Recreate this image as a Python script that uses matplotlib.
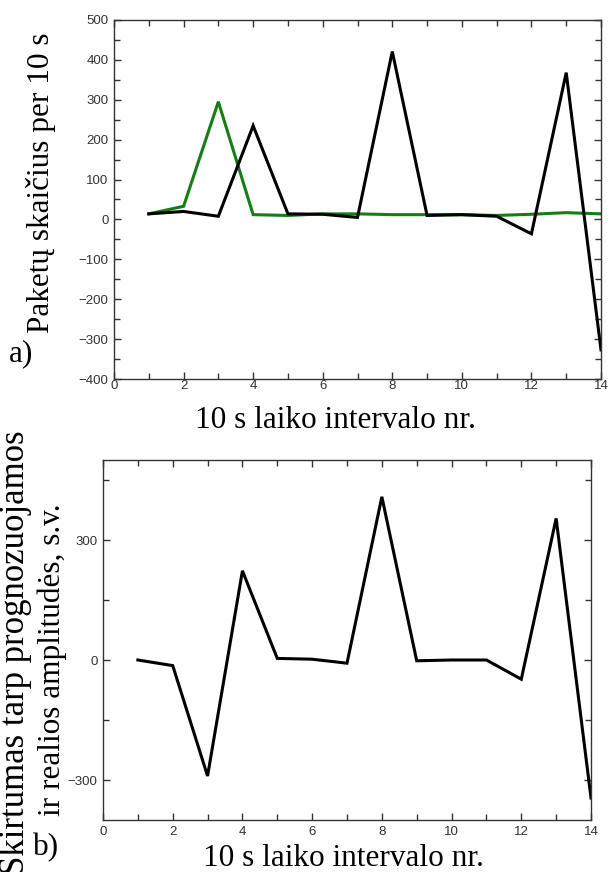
import matplotlib
matplotlib.use("Agg")
import matplotlib.pyplot as plt
from matplotlib.ticker import MultipleLocator

x = list(range(1, 15))
predicted = [14, 33, 295, 12, 10, 14, 14, 12, 12, 12, 10, 13, 17, 14]      # green
real = [14, 20, 8, 235, 14, 13, 5, 421, 10, 12, 8, -36, 368, -327]         # black
difference = [0, -14, -290, 223, 4, 2, -8, 408, -2, 0, 0, -48, 354, -345]

xlabel = "10 s laiko intervalo nr."
ylabel_a = "Paketų skaičius per 10 s"
ylabel_b1 = "Skirtumas tarp prognozuojamos"
ylabel_b2 = "ir realios amplitudės, s.v."

W, H = 609, 872
fig = plt.figure(figsize=(W / 100, H / 100), dpi=100)

serif = "Liberation Serif"
sans = "Liberation Sans"
tick_color = "#333333"

def px_axes(l, t, r, b):
    return fig.add_axes([l / W, 1 - b / H, (r - l) / W, (b - t) / H])

def style(ax, ymin, yticks, xpad):
    ax.set_xlim(0, 14)
    ax.set_ylim(-400, 500)
    ax.xaxis.set_major_locator(MultipleLocator(2))
    ax.xaxis.set_minor_locator(MultipleLocator(1))
    ax.set_yticks(yticks)
    ax.yaxis.set_minor_locator(MultipleLocator(ymin))
    ax.tick_params(which="both", direction="in", top=True, right=True,
                   color=tick_color, width=1)
    ax.tick_params(which="major", length=5, labelsize=9.5, labelcolor=tick_color)
    ax.tick_params(which="minor", length=4)
    ax.tick_params(axis="x", pad=xpad)
    ax.tick_params(axis="y", pad=4)
    for lab in ax.get_xticklabels() + ax.get_yticklabels():
        lab.set_fontfamily(sans)
    for s in ax.spines.values():
        s.set_color(tick_color)
        s.set_linewidth(1.0)

# top chart
ax1 = px_axes(114, 20, 601, 379)
ax1.plot(x, predicted, color="#147d14", lw=2.2, solid_joinstyle="miter")
ax1.plot(x, real, color="black", lw=2.2, solid_joinstyle="miter")
style(ax1, 50, [-400, -300, -200, -100, 0, 100, 200, 300, 400, 500], 1)

# bottom chart
ax2 = px_axes(103, 460, 591, 820)
ax2.plot(x, difference, color="black", lw=2.2, solid_joinstyle="miter")
style(ax2, 150, [-300, 0, 300], 4)

# labels
fs = 22.5
fig.text(335 / W, 1 - 428 / H, xlabel, family=serif, fontsize=fs, ha="center", va="baseline")
fig.text(343 / W, 1 - 866 / H, xlabel, family=serif, fontsize=fs, ha="center", va="baseline")
fig.text(41 / W, 1 - 183 / H, ylabel_a, family=serif, fontsize=fs, rotation=90,
         ha="center", va="center")
fig.text(16 / W, 1 - 653 / H, ylabel_b1, family=serif, fontsize=25, rotation=90,
         ha="center", va="center")
fig.text(52 / W, 1 - 660 / H, ylabel_b2, family=serif, fontsize=fs, rotation=90,
         ha="center", va="center")
fig.text(21 / W, 1 - 354 / H, "a)", family=serif, fontsize=fs, ha="center", va="center")
fig.text(46 / W, 1 - 848 / H, "b)", family=serif, fontsize=fs, ha="center", va="center")

fig.savefig("out.png", dpi=100)
